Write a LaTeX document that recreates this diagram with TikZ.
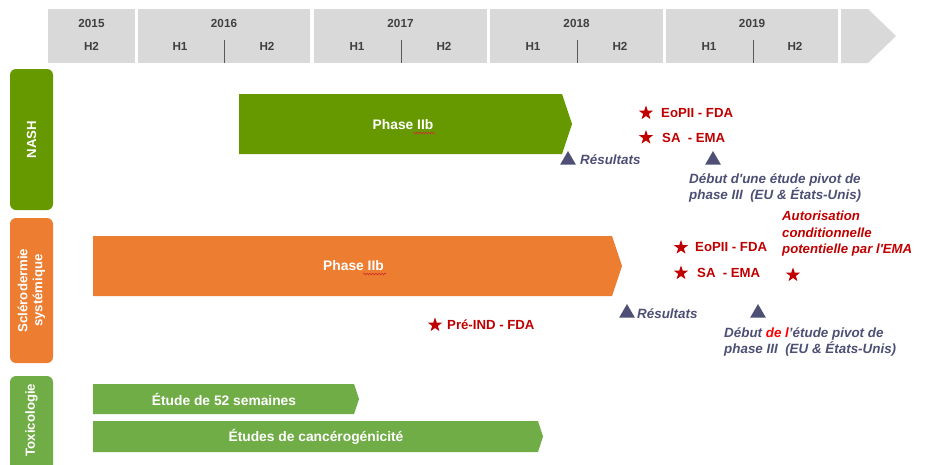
\documentclass[tikz,border=0pt]{standalone}
\usepackage{fontspec}
\setmainfont{Liberation Sans}[Ligatures=TeXOff]
\usetikzlibrary{shapes.geometric,decorations.pathmorphing}
\definecolor{hdr}{HTML}{D9D9D9}
\definecolor{hdrtxt}{HTML}{404040}
\definecolor{divc}{HTML}{595959}
\definecolor{nashg}{HTML}{669900}
\definecolor{orng}{HTML}{ED7D31}
\definecolor{toxg}{HTML}{70AD47}
\definecolor{redt}{HTML}{C00000}
\definecolor{slate}{HTML}{4D4F75}
\definecolor{brightred}{HTML}{FF0000}
\definecolor{squig}{HTML}{D0302A}
\begin{document}
\begin{tikzpicture}[x=1pt,y=-1pt,
  hdrtext/.style={font=\fontsize{11.7}{13}\selectfont\bfseries, text=hdrtxt, inner sep=0pt},
  cattext/.style={font=\fontsize{13.2}{15}\selectfont\bfseries, text=white, rotate=90, align=center, inner sep=0pt},
  bartext/.style={font=\fontsize{13.8}{15}\selectfont\bfseries, text=white, inner sep=0pt},
  starm/.style={star, star points=5, star point ratio=2.5, fill=redt, minimum size=15pt, inner sep=0pt},
  trim/.style={regular polygon, regular polygon sides=3, fill=slate, minimum size=18pt, inner sep=0pt},
  redtext/.style={font=\fontsize{13.2}{15}\selectfont\bfseries, text=redt, anchor=west, inner sep=0pt},
  redital/.style={font=\fontsize{13.2}{16.5}\selectfont\bfseries\itshape, text=redt, anchor=north west, align=left, inner sep=0pt},
  slatetext/.style={font=\fontsize{13.4}{16.5}\selectfont\bfseries\itshape, text=slate, anchor=north west, align=left, inner sep=0pt},
  divline/.style={draw=divc, line width=0.8pt},
  squiggle/.style={draw=squig, line width=0.6pt, decorate, decoration={snake, amplitude=0.9pt, segment length=3pt}}
]
\useasboundingbox (0,0) rectangle (925,464);
\clip (0,0) rectangle (925,464);

% header
\fill[hdr] (48,9) rectangle (135,63);
\fill[hdr] (138,9) rectangle (310,63);
\fill[hdr] (314,9) rectangle (487,63);
\fill[hdr] (490,9) rectangle (663,63);
\fill[hdr] (666,9) rectangle (838,63);
\fill[hdr] (841,9) -- (868,9) -- (896,36) -- (868,63) -- (841,63) -- cycle;

\node[hdrtext] (y15) at (91.5,23) {2015};
\node[hdrtext] (y16) at (224,23) {2016};
\node[hdrtext] (y17) at (400.5,23) {2017};
\node[hdrtext] (y18) at (576.5,23) {2018};
\node[hdrtext] (y19) at (752,23) {2019};
\node[hdrtext] (h15b) at (91.5,46) {H2};
\node[hdrtext] (h16a) at (180,46) {H1};
\node[hdrtext] (h16b) at (267,46) {H2};
\node[hdrtext] (h17a) at (357,46) {H1};
\node[hdrtext] (h17b) at (444,46) {H2};
\node[hdrtext] (h18a) at (533,46) {H1};
\node[hdrtext] (h18b) at (620,46) {H2};
\node[hdrtext] (h19a) at (709,46) {H1};
\node[hdrtext] (h19b) at (795,46) {H2};
\draw[divline] (224,40) -- (224,63);
\draw[divline] (401,40) -- (401,63);
\draw[divline] (577,40) -- (577,63);
\draw[divline] (753,40) -- (753,63);

% category boxes
\fill[nashg, rounded corners=6pt] (10,69) rectangle (53,210);
\fill[orng, rounded corners=6pt] (10,218) rectangle (53,363);
\fill[toxg, rounded corners=6pt] (10,376) rectangle (53,480);
\node[cattext] (nash) at (31.5,139.5) {NASH};
\node[cattext] (scl) at (31.5,290.5) {Sclérodermie\\systémique};
\node[cattext] (tox) at (31.5,420) {Toxicologie};

% bars
\fill[nashg] (239,94) -- (562,94) -- (572,124) -- (562,154) -- (239,154) -- cycle;
\node[bartext] (p2n) at (403,124.5) {Phase IIb};
\draw[squiggle] (413,133) -- (435,133);
\fill[orng] (93,236) -- (612,236) -- (622,266) -- (612,296) -- (93,296) -- cycle;
\node[bartext] (p2s) at (353.5,266) {Phase IIb};
\draw[squiggle] (363,274) -- (386,274);
\fill[toxg] (93,384) -- (354,384) -- (359,399) -- (354,414) -- (93,414) -- cycle;
\node[bartext] (t52) at (224,399) {Étude de 52 semaines};
\fill[toxg] (93,421) -- (538,421) -- (543,436.5) -- (538,452) -- (93,452) -- cycle;
\node[bartext] (tcar) at (316,436.5) {Études de cancérogénicité};

% NASH milestones
\node[starm] (ns1) at (646,113) {};
\node[redtext] (ns1t) at (661,113) {EoPII - FDA};
\node[starm] (ns2) at (646,137.5) {};
\node[redtext] (ns2t) at (662,137.5) {SA\ \ - EMA};
\node[trim] (nt1) at (568,160) {};
\node[slatetext, anchor=west] (nt1t) at (580,160) {Résultats};
\node[trim] (nt2) at (713,160) {};
\node[slatetext] (nt2t) at (689,173) {Début d'une étude pivot de\\phase III\ \ (EU \& États-Unis)};

% Sclero milestones
\node[starm] (ss1) at (681,247.5) {};
\node[redtext] (ss1t) at (695,247.5) {EoPII - FDA};
\node[starm] (ss2) at (681,273) {};
\node[redtext] (ss2t) at (697,273) {SA\ \ - EMA};
\node[redital] (auto) at (782,211) {Autorisation\\conditionnelle\\potentielle par l'EMA};
\node[starm] (ss3) at (793,275) {};
\node[starm] (spre) at (435,325) {};
\node[redtext] (spret) at (447,325) {Pré-IND - FDA};
\node[trim] (st1) at (627,313) {};
\node[slatetext, anchor=west] (st1t) at (637,314) {Résultats};
\node[trim] (st2) at (758,313) {};
\node[slatetext] (st2t) at (724,327) {Début {\color{brightred}de l}’étude pivot de\\phase III\ \ (EU \& États-Unis)};
\end{tikzpicture}
\end{document}
